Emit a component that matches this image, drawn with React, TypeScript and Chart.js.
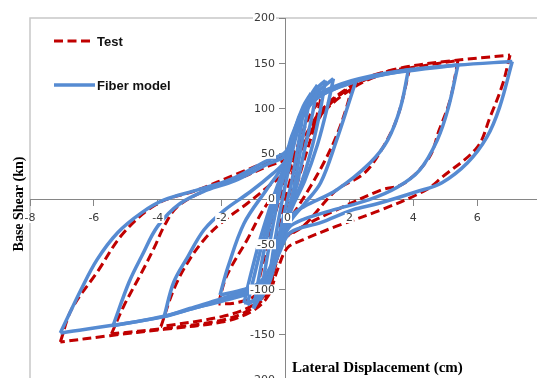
import React, { useEffect, useRef } from "react";
import { Chart, registerables } from "chart.js";

Chart.register(...registerables);

type Pt = [number, number];

// Axis ticks
const xTicks = [-8, -6, -4, -2, 0, 2, 4, 6, 8];
const yTicks = [-200, -150, -100, -50, 0, 50, 100, 150, 200];

// Test cycles (cm, kN): each starts at the positive peak, unloads to the
// negative peak, then reloads back to the positive peak.
const test1: Pt[] = [
  [0.55, 70], [0.35, 40], [0.15, 10], [-0.05, -20], [-0.25, -50], [-0.45, -75],
  [-0.3, -45], [-0.1, -15], [0.1, 15], [0.35, 45], [0.55, 70],
];
const test2: Pt[] = [
  [1.1, 110], [0.9, 80], [0.6, 45], [0.35, 15], [0.1, -15], [-0.15, -45], [-0.4, -80], [-0.7, -105], [-1.0, -115],
  [-0.8, -85], [-0.6, -55], [-0.35, -20], [-0.1, 10], [0.2, 40], [0.5, 70], [0.8, 95], [1.1, 110],
];
const test3: Pt[] = [
  [2.1, 126], [1.9, 100], [1.6, 70], [1.2, 40], [0.8, 15], [0.4, -8], [0.0, -30], [-0.3, -60], [-0.6, -90], [-1.0, -108], [-1.6, -115], [-2.1, -116],
  [-1.9, -90], [-1.7, -75], [-1.2, -45], [-0.7, -12], [-0.25, 10], [0.1, 30], [0.5, 55], [0.9, 85], [1.4, 108], [2.1, 126],
];
const test4: Pt[] = [
  [3.9, 146], [3.5, 90], [3.0, 54], [2.45, 28], [1.6, 10], [0.56, -30], [-0.06, -45], [-0.3, -70], [-0.55, -100], [-1.0, -117], [-2.0, -130], [-3.9, -141],
  [-3.5, -100], [-3.06, -70], [-2.55, -45], [-2.0, -26], [-1.2, -5], [-0.5, 15], [0.0, 30], [0.4, 50], [0.8, 75], [1.2, 97], [1.8, 118], [2.6, 135], [3.9, 146],
];
const test5: Pt[] = [
  [5.4, 153], [5.15, 109], [4.8, 75], [4.5, 46], [3.7, 17], [3.0, 10], [1.6, -12], [0.56, -30], [-0.06, -45], [-0.3, -72], [-0.56, -104], [-1.1, -122], [-2.0, -134], [-3.8, -143], [-5.45, -149],
  [-5.06, -118], [-4.5, -81], [-4.1, -53], [-3.8, -30], [-3.4, -9], [-2.6, 8], [-1.5, 22], [-0.5, 37], [0.1, 45], [0.5, 58], [0.8, 75], [1.2, 96], [1.8, 115], [2.6, 132], [3.8, 144], [5.4, 153],
];
const test6: Pt[] = [
  [7.03, 159], [6.8, 127], [6.4, 90], [6.0, 57], [4.9, 24], [4.4, 10], [3.0, -12], [1.6, -30], [0.56, -45], [0.06, -54], [-0.25, -78], [-0.56, -108], [-1.1, -125], [-2.0, -136], [-3.8, -144], [-5.5, -151], [-7.05, -158],
  [-6.7, -122], [-5.9, -81], [-5.06, -37], [-4.0, -5], [-2.75, 10], [-1.5, 28], [-0.5, 42], [0.0, 48], [0.4, 58], [0.7, 75], [1.1, 97], [1.7, 115], [2.5, 132], [3.5, 144], [5.0, 152], [7.03, 159],
];

// Fiber model cycles, same ordering
const fiber1: Pt[] = [
  [0.55, 95], [0.4, 60], [0.2, 20], [0.0, -10], [-0.2, -40], [-0.4, -70], [-0.5, -85],
  [-0.35, -50], [-0.15, -10], [0.05, 25], [0.3, 65], [0.55, 95],
];
const fiber2: Pt[] = [
  [0.8, 117], [0.65, 90], [0.45, 50], [0.25, 10], [0.0, -25], [-0.25, -60], [-0.5, -92], [-0.8, -112],
  [-0.65, -80], [-0.45, -40], [-0.2, 5], [0.05, 40], [0.3, 78], [0.55, 102], [0.8, 117],
];
const fiber3: Pt[] = [
  [1.0, 126], [0.85, 95], [0.6, 55], [0.35, 15], [0.1, -15], [-0.2, -50], [-0.5, -85], [-0.8, -108], [-1.0, -121],
  [-0.85, -90], [-0.6, -45], [-0.3, 0], [0.0, 30], [0.3, 70], [0.6, 100], [0.8, 115], [1.0, 126],
];
const fiber4: Pt[] = [
  [1.25, 131], [1.1, 100], [0.85, 60], [0.5, 18], [0.15, -12], [-0.15, -45], [-0.45, -80], [-0.8, -106], [-1.2, -117],
  [-1.0, -88], [-0.7, -45], [-0.35, -2], [-0.05, 32], [0.25, 70], [0.6, 102], [0.95, 121], [1.25, 131],
];
const fiber5: Pt[] = [
  [1.5, 133], [1.3, 100], [1.0, 60], [0.6, 20], [0.2, -10], [-0.1, -40], [-0.4, -75], [-0.7, -100], [-1.0, -112], [-1.3, -115],
  [-1.1, -85], [-0.8, -45], [-0.4, 0], [-0.1, 30], [0.2, 65], [0.5, 95], [0.9, 115], [1.5, 133],
];
const fiber6: Pt[] = [
  [2.2, 130], [2.0, 108], [1.6, 65], [1.1, 18], [0.6, -5], [0.2, -22], [-0.1, -40], [-0.4, -70], [-0.8, -92], [-1.3, -100], [-2.05, -106],
  [-1.8, -75], [-1.3, -27], [-0.6, 10], [-0.2, 30], [0.1, 50], [0.4, 80], [0.8, 105], [1.3, 118], [2.2, 130],
];
const fiber7: Pt[] = [
  [3.85, 143], [3.6, 101], [3.2, 65], [2.65, 40], [1.6, 10], [0.6, -8], [0.15, -20], [-0.15, -50], [-0.5, -82], [-1.0, -98], [-2.0, -110], [-3.0, -121], [-3.8, -130],
  [-3.5, -92], [-3.06, -64], [-2.55, -34], [-1.9, -12], [-1.1, 8], [-0.4, 28], [0.0, 42], [0.2, 65], [0.5, 90], [0.8, 106], [1.3, 118], [2.2, 130], [3.85, 143],
];
const fiber8: Pt[] = [
  [5.4, 148], [5.1, 101], [4.75, 65], [4.2, 32], [3.5, 13], [2.6, -1], [1.5, -12], [0.6, -22], [0.1, -32], [-0.2, -58], [-0.5, -83], [-1.0, -100], [-2.0, -112], [-3.0, -122], [-4.0, -131], [-5.4, -140],
  [-4.9, -92], [-4.5, -63], [-4.0, -30], [-3.3, -5], [-2.45, 10], [-1.6, 20], [-0.6, 38], [0.0, 48], [0.2, 68], [0.5, 92], [0.8, 108], [1.3, 120], [2.2, 131], [3.5, 140], [5.4, 148],
];
const fiber9: Pt[] = [
  [7.1, 152], [6.7, 101], [6.3, 68], [5.7, 40], [4.9, 18], [4.1, 8], [2.9, -5], [2.1, -12], [1.1, -26], [0.15, -37], [-0.2, -60], [-0.5, -85], [-1.0, -102], [-2.0, -113], [-2.8, -120], [-3.8, -130], [-5.3, -139], [-7.05, -148],
  [-6.4, -100], [-5.9, -67], [-5.25, -37], [-4.5, -15], [-3.8, -1], [-2.75, 10], [-1.7, 22], [-0.6, 42], [0.0, 52], [0.2, 70], [0.5, 95], [0.8, 110], [1.3, 121], [2.3, 133], [3.9, 143], [5.4, 148], [7.1, 152],
];

const testCycles = [test1, test2, test3, test4, test5, test6];
const fiberCycles = [fiber1, fiber2, fiber3, fiber4, fiber5, fiber6, fiber7, fiber8, fiber9];

const TEST_COLOR = "#C00000";
const FIBER_COLOR = "#568BD2";
const AXIS_COLOR = "#868686";
const LABEL_COLOR = "#3a3a3a";
const TICK_FONT = '11px "DejaVu Sans", sans-serif';

// Split a cycle into its two half-branches so that the peaks stay sharp
function branches(cycle: Pt[]): Pt[][] {
  let iMin = 0;
  cycle.forEach((p, i) => {
    if (p[0] < cycle[iMin][0]) iMin = i;
  });
  return [cycle.slice(0, iMin + 1), cycle.slice(iMin)];
}

function toData(pts: Pt[]) {
  return pts.map(([x, y]) => ({ x, y }));
}

// Tick label with a small white backing, drawn above the series
function label(ctx: CanvasRenderingContext2D, text: string, x: number, y: number, align: CanvasTextAlign) {
  const w = ctx.measureText(text).width;
  const left = align === "right" ? x - w : align === "center" ? x - w / 2 : x;
  ctx.fillStyle = "#ffffff";
  ctx.fillRect(left - 1, y - 5, w + 2, 10);
  ctx.fillStyle = LABEL_COLOR;
  ctx.textAlign = align;
  ctx.textBaseline = "middle";
  ctx.fillText(text, x, y + 0.5);
}

const decorPlugin = {
  id: "decor",
  beforeDraw(chart: any) {
    const { ctx, chartArea: a } = chart;
    ctx.save();
    ctx.fillStyle = "#ffffff";
    ctx.fillRect(0, 0, chart.width, chart.height);
    ctx.strokeStyle = "#c8c8c8";
    ctx.lineWidth = 1.5;
    ctx.strokeRect(a.left, a.top, a.right - a.left, a.bottom - a.top);
    ctx.restore();
  },
  afterDraw(chart: any) {
    const { ctx } = chart;
    const xs = chart.scales.x;
    const ys = chart.scales.y;
    const x0 = Math.round(xs.getPixelForValue(0));
    const y0 = Math.round(ys.getPixelForValue(0));
    ctx.save();

    // tick labels
    ctx.font = TICK_FONT;
    yTicks.forEach((v) => label(ctx, String(v), x0 - 11, ys.getPixelForValue(v), "right"));
    xTicks.forEach((v) => label(ctx, String(v), xs.getPixelForValue(v) + (v === 0 ? 2 : 0), y0 + 19, "center"));

    // legend
    ctx.lineWidth = 3;
    ctx.strokeStyle = TEST_COLOR;
    ctx.setLineDash([9, 4.5]);
    ctx.beginPath();
    ctx.moveTo(54, 41);
    ctx.lineTo(91, 41);
    ctx.stroke();
    ctx.setLineDash([]);
    ctx.lineWidth = 3.5;
    ctx.strokeStyle = FIBER_COLOR;
    ctx.beginPath();
    ctx.moveTo(54, 85);
    ctx.lineTo(95, 85);
    ctx.stroke();
    ctx.fillStyle = "#111111";
    ctx.font = 'bold 13px "Liberation Sans", Arial, sans-serif';
    ctx.textBaseline = "middle";
    ctx.textAlign = "left";
    ctx.fillText("Test", 97, 42);
    ctx.fillText("Fiber model", 97, 86);

    // axis titles
    ctx.fillStyle = "#000000";
    ctx.font = 'bold 15px "Liberation Serif", "Times New Roman", serif';
    ctx.fillText("Lateral Displacement (cm)", 292, 368);
    ctx.translate(19, 204);
    ctx.rotate(-Math.PI / 2);
    ctx.textAlign = "center";
    ctx.font = 'bold 14px "Liberation Serif", "Times New Roman", serif';
    ctx.fillText("Base Shear (kn)", 0, 0);
    ctx.restore();
  },
};

export default function App() {
  const ref = useRef<HTMLCanvasElement | null>(null);

  useEffect(() => {
    document.documentElement.style.overflow = "hidden";
    document.body.style.overflow = "hidden";
    const canvas = ref.current;
    if (!canvas) return;

    const datasets: any[] = [];
    fiberCycles.forEach((c) =>
      branches(c).forEach((b) =>
        datasets.push({
          label: "Fiber model",
          data: toData(b),
          borderColor: FIBER_COLOR,
          borderWidth: 3.5,
          tension: 0.35,
          order: 0,
        })
      )
    );
    testCycles.forEach((c) =>
      branches(c).forEach((b) =>
        datasets.push({
          label: "Test",
          data: toData(b),
          borderColor: TEST_COLOR,
          borderWidth: 3,
          borderDash: [9, 4.5],
          tension: 0.35,
          order: 1,
        })
      )
    );

    const axisCommon = {
      type: "linear" as const,
      grid: { drawOnChartArea: false, color: AXIS_COLOR, tickLength: 6 },
      border: { color: AXIS_COLOR, width: 1 },
      ticks: { display: false },
    };

    const chart = new Chart(canvas, {
      type: "scatter",
      data: { datasets },
      plugins: [decorPlugin],
      options: {
        responsive: false,
        animation: false,
        devicePixelRatio: 1,
        showLine: true,
        layout: { padding: { left: 30, top: 18, right: 19, bottom: 20 } },
        elements: {
          point: { radius: 0, hoverRadius: 0 },
          line: { borderCapStyle: "butt", borderJoinStyle: "round" },
        },
        plugins: {
          legend: { display: false },
          tooltip: { enabled: false },
        },
        scales: {
          x: {
            ...axisCommon,
            position: { y: 0 } as any,
            min: xTicks[0],
            max: xTicks[xTicks.length - 1],
            afterBuildTicks: (s: any) => {
              s.ticks = xTicks.map((v) => ({ value: v }));
            },
          },
          y: {
            ...axisCommon,
            position: { x: 0 } as any,
            min: yTicks[0],
            max: yTicks[yTicks.length - 1],
            afterBuildTicks: (s: any) => {
              s.ticks = yTicks.map((v) => ({ value: v }));
            },
          },
        },
      },
    });
    return () => chart.destroy();
  }, []);

  return (
    <div style={{ position: "fixed", left: 0, top: 0, width: 560, height: 400, background: "#fff" }}>
      <canvas ref={ref} width={560} height={400} style={{ display: "block" }} />
    </div>
  );
}
